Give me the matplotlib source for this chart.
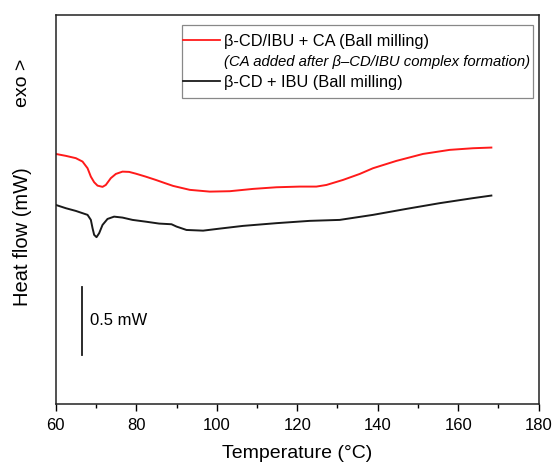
import matplotlib
matplotlib.use('Agg')
import matplotlib.pyplot as plt
from matplotlib.lines import Line2D
from matplotlib.patches import Rectangle

plt.rcParams['font.family'] = ['Liberation Sans', 'DejaVu Sans']

# DSC curves (temperature in C, heat flow in mW, arbitrary offset)
temp_red = [60.00, 62.48, 64.97, 66.63, 67.88, 68.70, 69.52, 70.36, 71.60, 72.42, 73.66,
            74.91, 76.57, 78.21, 79.88, 82.36, 84.84, 87.16, 89.14, 93.29, 98.26, 103.23,
            109.02, 114.83, 120.62, 124.77, 127.26, 131.38, 135.53, 138.83, 144.65, 151.25,
            157.89, 163.68, 168.25]
flow_red = [1.838, 1.824, 1.807, 1.782, 1.733, 1.671, 1.630, 1.605, 1.596, 1.610, 1.660,
            1.691, 1.708, 1.706, 1.693, 1.671, 1.647, 1.623, 1.603, 1.574, 1.561, 1.564,
            1.581, 1.593, 1.598, 1.598, 1.610, 1.647, 1.691, 1.733, 1.787, 1.838,
            1.868, 1.880, 1.885]

temp_black = [60.00, 62.48, 64.97, 67.88, 68.70, 69.12, 69.52, 70.11, 70.76, 71.60, 72.84,
              74.48, 76.57, 79.06, 82.36, 85.66, 88.75, 89.99, 92.47, 96.60, 100.75,
              106.53, 114.83, 123.11, 130.56, 138.83, 147.13, 155.40, 163.68, 168.25]
flow_black = [1.463, 1.439, 1.419, 1.390, 1.353, 1.292, 1.243, 1.226, 1.255, 1.316, 1.360,
              1.377, 1.370, 1.353, 1.340, 1.326, 1.321, 1.304, 1.279, 1.274, 1.289,
              1.309, 1.329, 1.346, 1.353, 1.390, 1.434, 1.476, 1.513, 1.532]

label_red = 'β-CD/IBU + CA (Ball milling)'
label_note = '(CA added after β–CD/IBU complex formation)'
label_black = 'β-CD + IBU (Ball milling)'

# scale bar: 0.5 mW
bar_x = 66.4
bar_y = [0.36, 0.86]

fig = plt.figure(figsize=(5.53, 4.68), dpi=100)
ax = fig.add_axes([0.101, 0.137, 0.873, 0.831])

ax.plot(temp_red, flow_red, color='#ff1a1a', lw=1.4, solid_joinstyle='round')
ax.plot(temp_black, flow_black, color='#1a1a1a', lw=1.4, solid_joinstyle='round')

ax.plot([bar_x, bar_x], bar_y, color='#1a1a1a', lw=1.3)
ax.text(bar_x + 2.2, sum(bar_y) / 2, '0.5 mW', fontsize=12, va='center', ha='left')

ax.set_xlim(60, 180)
ax.set_ylim(0, 2.86)
ax.set_xticks(range(60, 181, 20))
ax.set_xticks(range(70, 180, 20), minor=True)
ax.set_yticks([])
ax.tick_params(axis='x', which='major', length=5, width=1, labelsize=12, pad=5, direction='out')
ax.tick_params(axis='x', which='minor', length=3, width=1, direction='out')
for s in ax.spines.values():
    s.set_linewidth(1.1)
    s.set_color('#222222')

ax.set_xlabel('Temperature (°C)', fontsize=14, labelpad=9)

fig.text(0.040, 0.494, 'Heat flow (mW)', rotation=90, fontsize=14.5, ha='center', va='center')
fig.text(0.040, 0.823, 'exo >', rotation=90, fontsize=14, ha='center', va='center')

# legend box drawn separately: tight at the sides, roomy at top and bottom
ax.add_patch(Rectangle((0.261, 0.787), 0.7266, 0.187, transform=ax.transAxes,
                       fill=False, edgecolor='#888888', lw=0.9, zorder=4))
handles = [Line2D([], [], color='#ff1a1a', lw=1.3),
           Line2D([], [], color='none'),
           Line2D([], [], color='#1a1a1a', lw=1.3)]
leg = ax.legend(handles, [label_red, label_note, label_black], loc='upper right',
                bbox_to_anchor=(0.985, 0.956), fontsize=11.8, frameon=False,
                handlelength=2.3, handletextpad=0.2, labelspacing=0.36, borderpad=0.1,
                borderaxespad=0.0)
leg.get_texts()[1].set_fontstyle('italic')
leg.get_texts()[1].set_fontsize(10.7)

fig.savefig('out.png', dpi=100)
